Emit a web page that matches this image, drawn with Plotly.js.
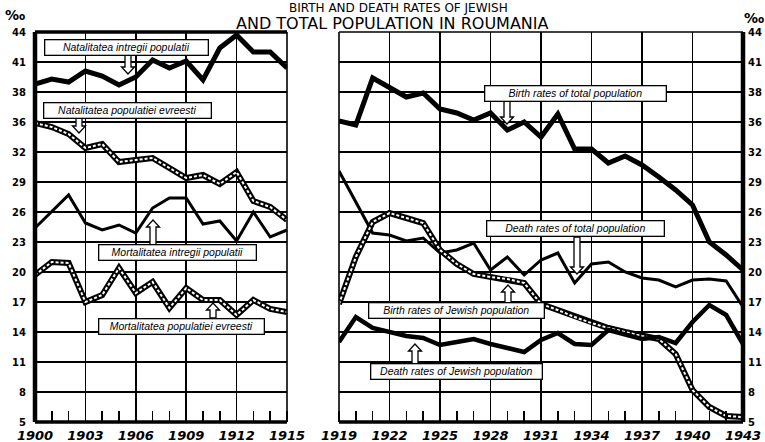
<!DOCTYPE html>
<html><head><meta charset="utf-8">
<script src="https://cdn.plot.ly/plotly-3.0.1.min.js"></script>
<style>html,body{margin:0;padding:0;background:#fff}#c{width:765px;height:442px}</style>
</head><body><div id="c"></div>
<script>
// ---- data ----
const yearsLeft = [1900,1901,1902,1903,1904,1905,1906,1907,1908,1909,1910,1911,1912,1913,1914,1915];
const birthTotalLeft = [38.8,39.3,39.0,40.1,39.6,38.7,39.5,41.2,40.4,41.1,39.2,42.4,43.7,42.0,42.0,40.4];
const birthJewishLeft = [34.9,34.5,33.8,32.4,32.8,31.0,31.2,31.4,30.4,29.4,29.7,28.8,30.0,27.1,26.5,25.2];
const deathTotalLeft = [24.4,26.1,27.7,24.9,24.2,24.7,23.9,26.4,27.4,27.4,24.8,25.1,23.1,26.0,23.5,24.2];
const deathJewishLeft = [19.7,21.0,20.9,17.0,17.7,20.4,17.9,19.0,16.4,18.4,17.2,17.2,15.7,17.2,16.3,16.0];

const yearsRight = [1919,1920,1921,1922,1923,1924,1925,1926,1927,1928,1929,1930,1931,1932,1933,1934,1935,1936,1937,1938,1939,1940,1941,1942,1943];
const birthTotalRight = [35.1,34.7,39.4,38.5,37.5,37.9,36.3,35.9,35.2,35.9,34.2,35.0,33.5,35.8,32.3,32.3,30.9,31.6,30.7,29.5,28.2,26.7,23.0,21.7,20.2];
const deathTotalRight = [30.1,27.0,23.9,23.7,23.1,23.4,21.9,22.2,22.9,20.2,21.5,19.7,21.2,21.9,18.9,20.8,21.0,20.0,19.4,19.2,18.5,19.2,19.3,19.1,16.5];
const birthJewishRight = [16.8,21.5,25.0,25.9,25.4,24.9,22.2,20.8,19.8,19.5,19.3,18.9,16.8,16.2,15.5,14.9,14.4,14.0,13.6,13.3,11.8,8.2,6.5,5.6,5.5];
const deathJewishRight = [13.0,15.5,14.4,14.0,13.6,13.4,12.7,13.0,13.3,12.8,12.4,12.0,13.2,13.9,12.8,12.7,14.2,13.7,13.3,13.5,12.9,15.0,16.7,15.7,12.8];

const xTicksLeft = [1900,1903,1906,1909,1912,1915];
const xTicksRight = [1919,1922,1925,1928,1931,1934,1937,1940,1943];
const yTickVals = [5,8,11,14,17,20,23,26,29,32,35,38,41,44];
const yTickText = ['5','8','11','14','17','20','23','26','29','32','36','38','41','44'];

const titleLine1 = 'BIRTH AND DEATH RATES OF JEWISH';
const titleLine2 = 'AND TOTAL POPULATION IN ROUMANIA';
const unitLabel = '‰';

const labels = {
  birthTotalLeft: 'Natalitatea intregii populatii',
  birthJewishLeft: 'Natalitatea populatiei evreesti',
  deathTotalLeft: 'Mortalitatea intregii populatii',
  deathJewishLeft: 'Mortalitatea populatiei evreesti',
  birthTotalRight: 'Birth rates of total population',
  deathTotalRight: 'Death rates of total population',
  birthJewishRight: 'Birth rates of Jewish population',
  deathJewishRight: 'Death rates of Jewish population'
};

// ---- layout helpers (pixel -> paper) ----
const L = 35, R = 743, T = 32, B = 422;
const PX = p => (p - L) / (R - L);
const PY = p => (B - p) / (B - T);

function solid(x, y, xa, ya, w) {
  return {x, y, xaxis: xa, yaxis: ya, mode: 'lines', line: {color: '#000', width: w}, hoverinfo: 'skip', showlegend: false};
}
function hatched(x, y, xa, ya, w) {
  return [
    {x, y, xaxis: xa, yaxis: ya, mode: 'lines', line: {color: '#000', width: w}, hoverinfo: 'skip', showlegend: false},
    {x, y, xaxis: xa, yaxis: ya, mode: 'lines', line: {color: '#fff', width: 2, dash: '3px,2px'}, hoverinfo: 'skip', showlegend: false}
  ];
}

const traces = [
  solid(yearsLeft, birthTotalLeft, 'x', 'y', 5),
  ...hatched(yearsLeft, birthJewishLeft, 'x', 'y', 6),
  solid(yearsLeft, deathTotalLeft, 'x', 'y', 3),
  ...hatched(yearsLeft, deathJewishLeft, 'x', 'y', 6),
  solid(yearsRight, birthTotalRight, 'x2', 'y2', 5),
  solid(yearsRight, deathTotalRight, 'x2', 'y2', 3),
  ...hatched(yearsRight, birthJewishRight, 'x2', 'y2', 6),
  solid(yearsRight, deathJewishRight, 'x2', 'y2', 4.5)
];

function xAxis(domain, range, ticks) {
  return {
    domain, range, tickvals: ticks, ticktext: ticks.map(String),
    showgrid: true, gridcolor: '#000', gridwidth: 1.6,
    zeroline: false, showline: false, ticks: '',
    minor: {dtick: 1, tick0: range[0], ticks: 'inside', ticklen: 11, tickwidth: 1.6, tickcolor: '#000', showgrid: false},
    tickfont: {family: 'DejaVu Sans', size: 13, color: '#000', style: 'italic', weight: 'bold'},
    ticklabelstandoff: 4, fixedrange: true
  };
}
function yAxis(anchor, side) {
  return {
    anchor, side, range: [5, 44], tickvals: yTickVals, ticktext: yTickText,
    showgrid: true, gridcolor: '#000', gridwidth: 1.6,
    zeroline: false, showline: false, ticks: '',
    tickfont: {family: 'DejaVu Sans', size: 10, color: '#000', weight: 'bold'},
    ticklabelstandoff: side === 'left' ? 8 : 4, fixedrange: true
  };
}

function line(xref, yref, x0, y0, x1, y1, w) {
  return {type: 'line', xref, yref, x0, y0, x1, y1, line: {color: '#000', width: w}, layer: 'above'};
}
function arrow(xc, yFrom, yTo) {
  // hollow arrow drawn in pixel space, converted to paper
  const dir = yTo > yFrom ? 1 : -1;
  const hb = yTo - dir * 7;
  const pts = [[xc - 3, yFrom], [xc - 3, hb], [xc - 6.5, hb], [xc, yTo], [xc + 6.5, hb], [xc + 3, hb], [xc + 3, yFrom]];
  const d = 'M' + pts.map(p => PX(p[0]).toFixed(5) + ',' + PY(p[1]).toFixed(5)).join(' L') + ' Z';
  return {type: 'path', xref: 'paper', yref: 'paper', path: d, fillcolor: '#fff', line: {color: '#000', width: 1.3}, layer: 'above'};
}
function box(text, xc, yc, w) {
  return {xref: 'paper', yref: 'paper', x: PX(xc), y: PY(yc), xanchor: 'center', yanchor: 'middle',
    text, showarrow: false, width: w, align: 'center', bgcolor: '#fff', bordercolor: '#000', borderwidth: 1.3, borderpad: 1,
    font: {family: 'Liberation Sans', size: 10.5, style: 'italic', color: '#000'}};
}

const shapes = [
  // left panel frame
  line('x domain', 'y domain', 0, 0, 0, 1, 4.5),
  line('x domain', 'y domain', 0, 0, 1, 0, 3.5),
  line('x domain', 'y domain', 0, 1, 1, 1, 3.5),
  line('x domain', 'y domain', 1, 0, 1, 1, 1.6),
  // right panel frame
  line('x2 domain', 'y2 domain', 0, 0, 0, 1, 1.6),
  line('x2 domain', 'y2 domain', 0, 1, 1, 1, 1.6),
  line('x2 domain', 'y2 domain', 0, 0, 1, 0, 3.5),
  line('x2 domain', 'y2 domain', 1, 0, 1, 1, 4.5),
  arrow(128, 55, 74),
  arrow(79, 117, 133),
  arrow(153, 245, 220),
  arrow(213, 318, 303),
  arrow(507, 100, 124),
  arrow(577, 237, 274),
  arrow(508, 303, 285),
  arrow(415, 364, 344)
];

const annotations = [
  box(labels.birthTotalLeft, 126, 48, 160),
  box(labels.birthJewishLeft, 127, 111, 164),
  box(labels.deathTotalLeft, 177, 252, 154),
  box(labels.deathJewishLeft, 181, 326, 162),
  box(labels.birthTotalRight, 575, 93, 178),
  box(labels.deathTotalRight, 575, 228, 174),
  box(labels.birthJewishRight, 456, 310, 172),
  box(labels.deathJewishRight, 456, 371, 168),
  {xref: 'paper', yref: 'paper', x: PX(398), y: PY(17), xanchor: 'center', yanchor: 'bottom', showarrow: false,
    text: titleLine1, font: {family: 'DejaVu Sans', size: 12, color: '#000'}},
  {xref: 'paper', yref: 'paper', x: PX(392), y: PY(35), xanchor: 'center', yanchor: 'bottom', showarrow: false,
    text: titleLine2, font: {family: 'DejaVu Sans', size: 16, color: '#000'}},
  {xref: 'paper', yref: 'paper', x: PX(15), y: PY(15), xanchor: 'center', yanchor: 'middle', showarrow: false,
    text: unitLabel, font: {family: 'DejaVu Sans', size: 14, weight: 'bold', color: '#000'}},
  {xref: 'paper', yref: 'paper', x: PX(754), y: PY(18), xanchor: 'center', yanchor: 'middle', showarrow: false,
    text: unitLabel, font: {family: 'DejaVu Sans', size: 14, weight: 'bold', color: '#000'}}
];

const layout = {
  width: 765, height: 442,
  margin: {l: L, r: 765 - R, t: T, b: 442 - B, pad: 0},
  paper_bgcolor: '#fff', plot_bgcolor: '#fff',
  showlegend: false,
  xaxis: xAxis([0, PX(287)], [1900, 1915], xTicksLeft),
  xaxis2: Object.assign(xAxis([PX(339), 1], [1919, 1943], xTicksRight), {anchor: 'y2'}),
  yaxis: yAxis('x', 'left'),
  yaxis2: yAxis('x2', 'right'),
  shapes, annotations
};
layout.xaxis.anchor = 'y';

Plotly.newPlot('c', traces, layout, {displayModeBar: false, staticPlot: true});
</script>
</body></html>
